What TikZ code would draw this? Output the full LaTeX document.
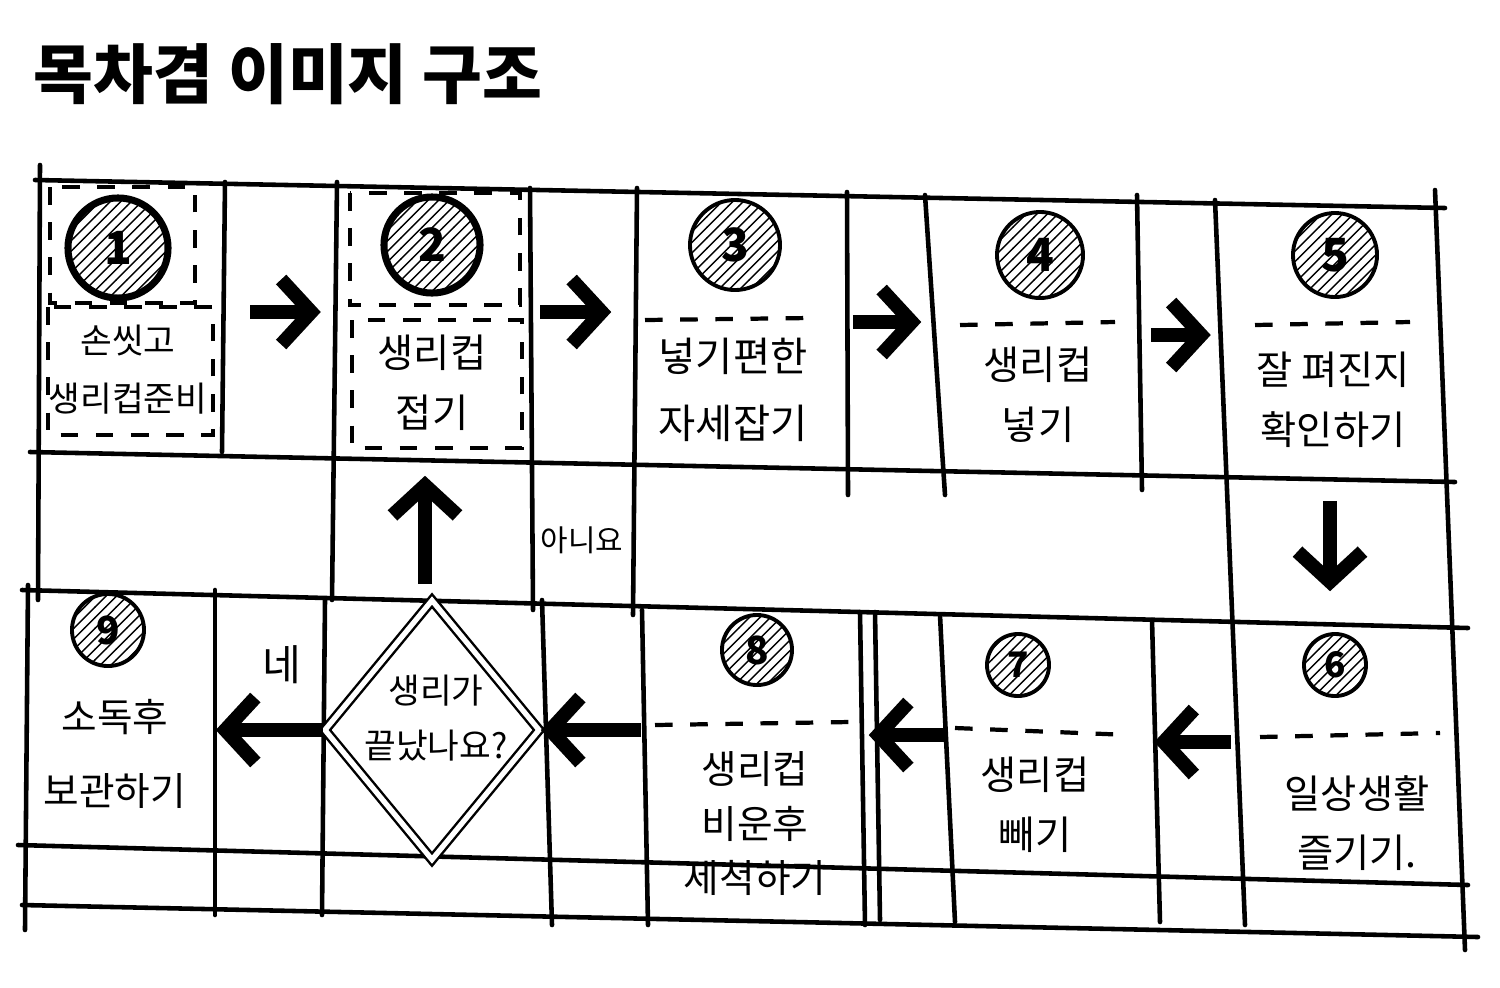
\documentclass[tikz,border=0pt]{standalone}
\usepackage{fontspec}
\setmainfont{Noto Sans CJK KR}
\usetikzlibrary{positioning,shapes.geometric,patterns,arrows.meta}

\tikzset{
  gridline/.style={line width=1.3pt, line cap=round},
  cell/.style={draw=none, inner sep=0pt, minimum height=2.7cm},
  numdisc/.style={circle, draw, line width=1.1pt, pattern=north east lines, inner sep=0pt, font=\bfseries\fontsize{13}{13}\selectfont},
  steptext/.style={align=center, font=\fontsize{11.2}{17}\selectfont},
  sepline/.style={line width=1.2pt, dash pattern=on 5pt off 5pt},
  bigarrow/.style={line width=4pt, -{Straight Barb[length=3mm,width=6.5mm]}},
}

\begin{document}
\begin{tikzpicture}[x=0.01cm,y=-0.01cm]
  \useasboundingbox (0,0) rectangle (1500,987);
  % TITLE
  \node[anchor=west, inner sep=0pt, font=\bfseries\fontsize{18.5}{20}\selectfont] (title) at (33,74) {목차겸 이미지 구조};

  % GRID
  \draw[gridline] (35,180) -- (1445,208);
  \draw[gridline] (30,452) -- (1455,482);
  \draw[gridline] (22,590) -- (1468,628);
  \draw[gridline] (18,845) -- (1468,885);
  \draw[gridline] (22,905) -- (1478,937);
  \draw[gridline] (40,165) -- (38,600);
  \draw[gridline] (225,182) -- (222,452);
  \draw[gridline] (337,182) -- (332,600);
  \draw[gridline] (530,188) -- (533,610);
  \draw[gridline] (637,188) -- (633,615);
  \draw[gridline] (847,192) -- (848,495);
  \draw[gridline] (925,195) -- (945,495);
  \draw[gridline] (1137,195) -- (1142,490);
  \draw[gridline] (1215,200) -- (1245,925);
  \draw[gridline] (1435,190) -- (1465,950);
  \draw[gridline] (28,585) -- (25,930);
  \draw[gridline] (215,590) -- (215,915);
  \draw[gridline] (325,600) -- (322,915);
  \draw[gridline] (542,600) -- (552,925);
  \draw[gridline] (642,610) -- (648,925);
  \draw[gridline] (860,612) -- (865,925);
  \draw[gridline] (875,612) -- (880,920);
  \draw[gridline] (940,615) -- (955,922);
  \draw[gridline] (1152,620) -- (1160,922);

  % CELLS (top row, then bottom row)
  \node[cell, minimum width=1.85cm] (s1) at (132,325) {};
  \node[cell, minimum width=1.95cm] (s2) at (432,325) {};
  \node[cell, minimum width=2.1cm] (s3) at (740,325) {};
  \node[cell, minimum width=2.1cm] (s4) at (1035,325) {};
  \node[cell, minimum width=2.15cm] (s5) at (1332,325) {};
  \node[cell, minimum width=2.1cm, minimum height=2.6cm] (s6) at (1350,740) {};
  \node[cell, minimum width=2.07cm, minimum height=2.6cm] (s7) at (1048,740) {};
  \node[cell, minimum width=2.2cm, minimum height=2.6cm] (s8) at (752,740) {};
  \node[cell, minimum width=1.88cm, minimum height=2.6cm] (s9) at (121,740) {};
  \node[diamond, draw, double, line width=0.7pt, double distance=1.5pt, minimum width=2.15cm, minimum height=2.6cm,
        inner sep=0pt] (check) at (432,730) {};

  % dashed frames and separators
  \draw[sepline] (50,187) rectangle (195,303);
  \draw[sepline] (48,307) rectangle (213,435);
  \draw[sepline] (350,193) rectangle (520,305);
  \draw[sepline] (352,320) rectangle (522,448);
  \draw[sepline] (645,320) -- (810,318);
  \draw[sepline] (960,325) -- (1115,322);
  \draw[sepline] (1255,325) -- (1410,322);
  \draw[sepline] (1260,737) -- (1440,733);
  \draw[sepline] (955,728) -- (1130,735);
  \draw[sepline] (655,725) -- (850,722);

  % NUMBERS
  \node[numdisc, line width=2pt, minimum size=1cm] (n1) at (118,248) {1};
  \node[numdisc, line width=2pt, minimum size=0.96cm] (n2) at (432,245) {2};
  \node[numdisc, minimum size=0.9cm] (n3) at (735,245) {3};
  \node[numdisc, minimum size=0.86cm] (n4) at (1040,255) {4};
  \node[numdisc, minimum size=0.84cm] (n5) at (1335,255) {5};
  \node[numdisc, minimum size=0.62cm, font=\bfseries\fontsize{10}{10}\selectfont] (n6) at (1335,665) {6};
  \node[numdisc, minimum size=0.62cm, font=\bfseries\fontsize{10}{10}\selectfont] (n7) at (1018,665) {7};
  \node[numdisc, minimum size=0.7cm, font=\bfseries\fontsize{11}{11}\selectfont] (n8) at (757,650) {8};
  \node[numdisc, minimum size=0.72cm, font=\bfseries\fontsize{11}{11}\selectfont] (n9) at (108,630) {9};

  % TEXTS
  \node[steptext, font=\fontsize{9.8}{16.5}\selectfont] (t1) at (128,370) {손씻고\\생리컵준비};
  \node[steptext] (t2) at (432,383) {생리컵\\접기};
  \node[steptext, font=\fontsize{11.5}{19}\selectfont] (t3) at (733,390) {넣기편한\\자세잡기};
  \node[steptext] (t4) at (1038,395) {생리컵\\넣기};
  \node[steptext] (t5) at (1333,400) {잘 펴진지\\확인하기};
  \node[steptext] (t6) at (1357,823) {일상생활\\즐기기.};
  \node[steptext] (t7) at (1035,805) {생리컵\\빼기};
  \node[steptext, font=\fontsize{11}{15.5}\selectfont] (t8) at (755,824) {생리컵\\비운후\\세척하기};
  \node[steptext, font=\fontsize{11}{21}\selectfont] (t9) at (115,754) {소독후\\보관하기};
  \node[steptext, font=\fontsize{9.8}{15.5}\selectfont] (q) at (436,718) {생리가\\끝났나요?};
  \node[font=\fontsize{12}{12}\selectfont] (yes) at (282,665) {네};
  \node[font=\fontsize{8.5}{8.5}\selectfont] (no) at (582,540) {아니요};

  % ARROWS
  \draw[bigarrow, shorten <=0.25cm, shorten >=0.13cm] ([yshift=1.3mm]s1.east) -- ([yshift=1.3mm]s1.east -| s2.west);
  \draw[bigarrow, shorten <=0.1cm, shorten >=0.23cm] ([yshift=1.3mm]s2.east) -- ([yshift=1.3mm]s2.east -| s3.west);
  \draw[bigarrow, shorten <=0.07cm, shorten >=0.08cm] ([yshift=0.3mm]s3.east) -- ([yshift=0.3mm]s3.east -| s4.west);
  \draw[bigarrow, shorten <=0.1cm, shorten >=0.13cm] ([yshift=-1mm]s4.east) -- ([yshift=-1mm]s4.east -| s5.west);
  \draw[bigarrow, shorten <=0.4cm, shorten >=0.18cm] ([xshift=-0.2mm]s5.south) -- ([xshift=-0.2mm]s5.south |- s6.north);
  \draw[bigarrow, shorten <=0.13cm, shorten >=0.02cm] ([yshift=-0.2mm]s6.west) -- ([yshift=-0.2mm]s6.west -| s7.east);
  \draw[bigarrow, shorten >=0.06cm] ([yshift=0.5mm]s7.west) -- ([yshift=0.5mm]s7.west -| s8.east);
  \draw[bigarrow] (s8.west |- check.east) -- (check.east);
  \draw[bigarrow] (check.west) -- (check.west -| s9.east);
  \draw[bigarrow, shorten <=0.15cm, shorten >=0.15cm] ([xshift=-0.7mm]check.north) -- ([xshift=-0.7mm]check.north |- s2.south);
\end{tikzpicture}
\end{document}
